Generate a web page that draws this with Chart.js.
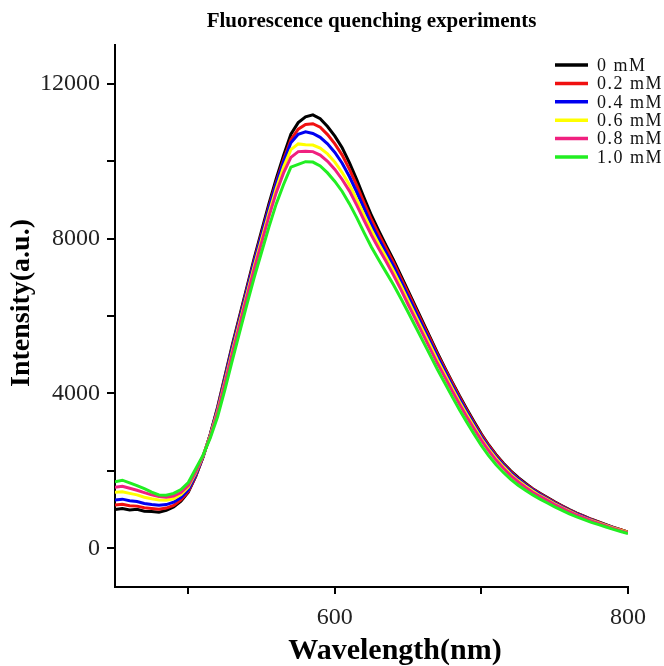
<!DOCTYPE html>
<html>
<head>
<meta charset="utf-8">
<title>Fluorescence quenching experiments</title>
<script src="https://cdn.jsdelivr.net/npm/chart.js@4.4.1/dist/chart.umd.min.js"></script>
<style>
  html, body { margin: 0; padding: 0; background: #fff; }
  #wrap { width: 664px; height: 666px; }
</style>
</head>
<body>
<div id="wrap"><canvas id="fluoChart" width="664" height="666"></canvas></div>
<script>
// wavelength (nm), 5 nm steps
const wavelengths = [
  450, 455, 460, 465, 470, 475, 480, 485, 490, 495,
  500, 505, 510, 515, 520, 525, 530, 535, 540, 545,
  550, 555, 560, 565, 570, 575, 580, 585, 590, 595,
  600, 605, 610, 615, 620, 625, 630, 635, 640, 645,
  650, 655, 660, 665, 670, 675, 680, 685, 690, 695,
  700, 705, 710, 715, 720, 725, 730, 735, 740, 745,
  750, 755, 760, 765, 770, 775, 780, 785, 790, 795, 800
];

const conc0 = [
  1000, 1030, 990, 1010, 960, 950, 930, 980, 1070, 1220,
  1450, 1850, 2350, 2950, 3650, 4450, 5250, 6000, 6750, 7500,
  8200, 8900, 9550, 10150, 10700, 11000, 11150, 11200, 11100, 10900,
  10650, 10350, 9960, 9520, 9050, 8600, 8200, 7820, 7450, 7050,
  6650, 6250, 5850, 5450, 5050, 4670, 4300, 3940, 3600, 3270,
  2950, 2670, 2420, 2200, 2000, 1830, 1680, 1540, 1420, 1310,
  1200, 1100, 1000, 910, 830, 750, 680, 610, 540, 480, 420
];
const conc02 = [
  1120, 1140, 1100, 1090, 1050, 1030, 1010, 1040, 1110, 1250,
  1470, 1860, 2350, 2940, 3620, 4410, 5200, 5950, 6700, 7440,
  8130, 8820, 9460, 10040, 10560, 10830, 10950, 10970, 10880, 10690,
  10450, 10160, 9790, 9370, 8920, 8490, 8110, 7750, 7390, 6990,
  6600, 6200, 5800, 5410, 5010, 4640, 4270, 3910, 3570, 3240,
  2930, 2650, 2400, 2180, 1980, 1810, 1660, 1530, 1410, 1300,
  1190, 1090, 990, 900, 825, 745, 675, 605, 540, 480, 420
];
const conc04 = [
  1250, 1270, 1230, 1210, 1160, 1130, 1110, 1130, 1190, 1310,
  1510, 1890, 2360, 2930, 3600, 4380, 5170, 5910, 6660, 7400,
  8090, 8780, 9420, 9990, 10480, 10700, 10760, 10720, 10620, 10450,
  10230, 9950, 9600, 9200, 8780, 8360, 7990, 7640, 7290, 6900,
  6510, 6120, 5730, 5340, 4950, 4580, 4210, 3860, 3520, 3200,
  2880, 2610, 2360, 2150, 1950, 1790, 1640, 1510, 1390, 1280,
  1170, 1070, 975, 890, 810, 735, 665, 595, 530, 470, 415
];
const conc06 = [
  1450, 1460, 1420, 1380, 1320, 1280, 1250, 1240, 1280, 1390,
  1580, 1940, 2380, 2910, 3550, 4310, 5090, 5830, 6570, 7300,
  7980, 8660, 9290, 9850, 10300, 10450, 10430, 10420, 10340, 10190,
  9980, 9710, 9390, 9010, 8610, 8220, 7860, 7520, 7170, 6790,
  6400, 6010, 5630, 5250, 4860, 4500, 4140, 3790, 3460, 3140,
  2830, 2560, 2320, 2110, 1910, 1750, 1610, 1480, 1360, 1260,
  1150, 1050, 960, 870, 795, 720, 655, 590, 525, 465, 410
];
const conc08 = [
  1580, 1600, 1550, 1500, 1440, 1380, 1340, 1320, 1350, 1440,
  1620, 1970, 2390, 2890, 3510, 4260, 5030, 5770, 6500, 7220,
  7900, 8570, 9190, 9700, 10100, 10250, 10260, 10250, 10160, 10000,
  9790, 9530, 9230, 8860, 8470, 8090, 7740, 7410, 7060, 6690,
  6300, 5920, 5540, 5160, 4780, 4430, 4070, 3730, 3400, 3090,
  2790, 2520, 2280, 2070, 1880, 1720, 1580, 1450, 1340, 1240,
  1130, 1040, 945, 860, 785, 710, 645, 580, 515, 455, 400
];
const conc10 = [
  1720, 1760, 1690, 1620, 1540, 1450, 1380, 1370, 1420, 1520,
  1700, 2050, 2400, 2850, 3400, 4100, 4850, 5580, 6300, 7000,
  7650, 8300, 8900, 9400, 9850, 9920, 9990, 9980, 9880, 9700,
  9480, 9220, 8900, 8540, 8150, 7780, 7450, 7130, 6810, 6460,
  6100, 5730, 5360, 4990, 4620, 4270, 3920, 3580, 3260, 2950,
  2650, 2390, 2160, 1960, 1780, 1630, 1500, 1380, 1270, 1170,
  1070, 980, 890, 810, 740, 670, 610, 550, 490, 435, 380
];

const seriesLabels = ['0 mM', '0.2 mM', '0.4 mM', '0.6 mM', '0.8 mM', '1.0 mM'];
const seriesColors = ['#000000', '#f01010', '#0000f0', '#ffff00', '#f0207f', '#22ee22'];
const seriesValues = [conc0, conc02, conc04, conc06, conc08, conc10];

const xTicks = [500, 600, 700, 800];
const xTickLabels = ['', '600', '', '800'];
const yTicks = [0, 2000, 4000, 6000, 8000, 10000, 12000];
const yTickLabels = ['0', '', '4000', '', '8000', '', '12000'];

const serif = "'Liberation Serif', 'Times New Roman', serif";

// legend over the plot (top right) and the two axis titles
const decorations = {
    id: 'decorations',
    afterDraw(chart) {
        const ctx = chart.ctx;
        ctx.save();
        ctx.font = '18px ' + serif;
        ctx.textBaseline = 'middle';
        ctx.letterSpacing = '1.5px';
        chart.data.datasets.forEach((ds, i) => {
            const y = 65 + i * 18.4;
            ctx.strokeStyle = ds.borderColor;
            ctx.lineWidth = 3.5;
            ctx.beginPath();
            ctx.moveTo(555, y);
            ctx.lineTo(588, y);
            ctx.stroke();
            ctx.fillStyle = '#111';
            ctx.fillText(ds.label, 597, y + 1);
        });
        ctx.letterSpacing = '0px';

        ctx.fillStyle = '#000';
        ctx.textAlign = 'center';
        ctx.font = 'bold 30px ' + serif;
        ctx.fillText('Wavelength(nm)', 395, 651);

        ctx.translate(22, 303);
        ctx.rotate(-Math.PI / 2);
        ctx.font = 'bold 28px ' + serif;
        ctx.fillText('Intensity(a.u.)', 0, 0);
        ctx.restore();
    }
};

const datasets = seriesValues.map((vals, i) => ({
    label: seriesLabels[i],
    data: vals.map((v, j) => ({ x: wavelengths[j], y: v })),
    borderColor: seriesColors[i],
    backgroundColor: seriesColors[i],
    borderWidth: 3,
    pointRadius: 0,
    tension: 0,
    order: seriesValues.length - i
}));

new Chart(document.getElementById('fluoChart'), {
    type: 'line',
    data: { datasets: datasets },
    options: {
        responsive: false,
        animation: false,
        layout: { padding: { left: 0, right: 36, top: 0, bottom: 0 } },
        plugins: {
            legend: { display: false },
            tooltip: { enabled: false },
            title: {
                display: true,
                fullSize: false,
                text: 'Fluorescence quenching experiments',
                color: '#000',
                font: { family: serif, size: 21, weight: 'bold', lineHeight: 1.2 },
                padding: { top: 9, bottom: 11 }
            }
        },
        scales: {
            x: {
                type: 'linear',
                min: 450,
                max: 800,
                afterBuildTicks: s => { s.ticks = xTicks.map(v => ({ value: v })); },
                afterFit: s => { s.height = 79; },
                ticks: {
                    autoSkip: false,
                    maxRotation: 0,
                    padding: 9,
                    color: '#222',
                    font: { family: serif, size: 24 },
                    callback: (v) => xTickLabels[xTicks.indexOf(v)] || ''
                },
                grid: { drawOnChartArea: false, drawTicks: true, tickLength: 7, color: '#000', lineWidth: 2 },
                border: { display: true, color: '#000', width: 2 }
            },
            y: {
                type: 'linear',
                min: -1000,
                max: 13000,
                afterBuildTicks: s => { s.ticks = yTicks.map(v => ({ value: v })); },
                afterFit: s => { s.width = 115; },
                ticks: {
                    autoSkip: false,
                    padding: 7,
                    color: '#222',
                    font: { family: serif, size: 24 },
                    callback: (v) => yTickLabels[yTicks.indexOf(v)] || ''
                },
                grid: { drawOnChartArea: false, drawTicks: true, tickLength: 8, color: '#000', lineWidth: 2 },
                border: { display: true, color: '#000', width: 2 }
            }
        }
    },
    plugins: [decorations]
});
</script>
</body>
</html>
